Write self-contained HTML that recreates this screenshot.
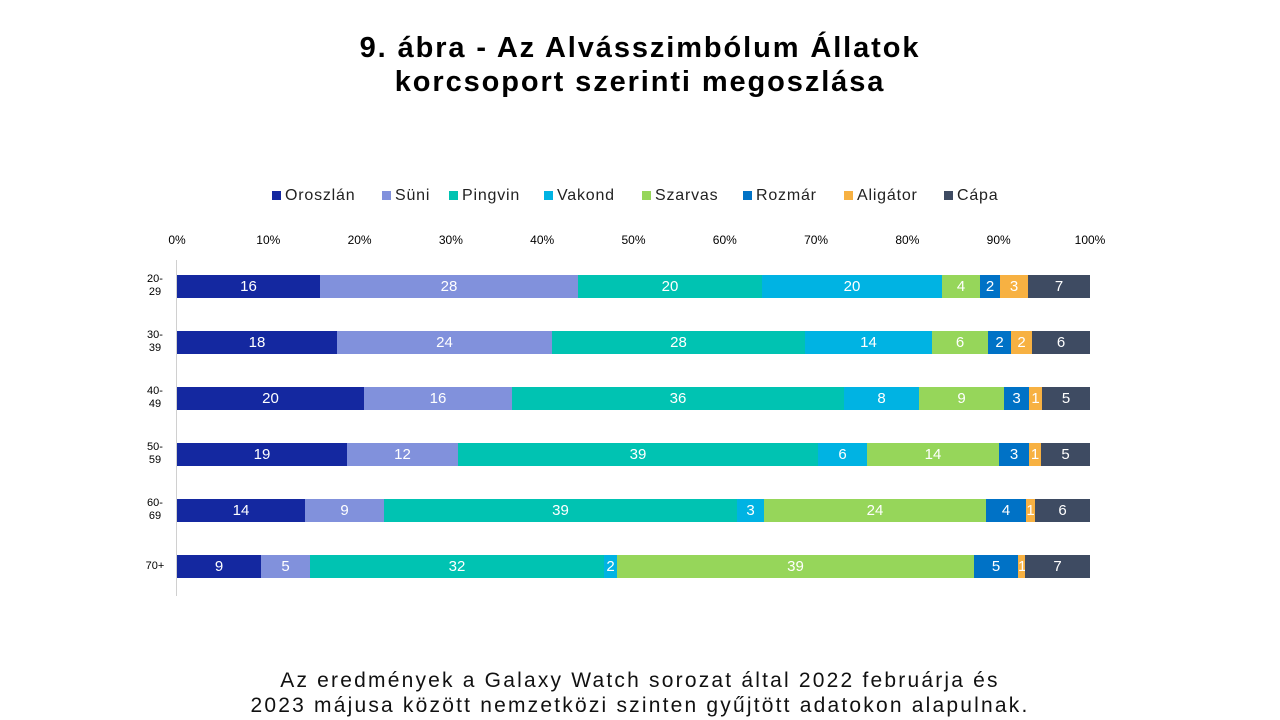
<!DOCTYPE html>
<html><head><meta charset="utf-8"><style>
body{margin:0;width:1280px;height:720px;background:#fff;position:relative;font-family:"Liberation Sans",sans-serif;overflow:hidden}
.t{position:absolute;left:0;width:1280px;text-align:center;font-weight:bold;font-size:29px;color:#000;letter-spacing:1.9px}
.a{position:absolute;font-size:12px;color:#000;transform:translateX(-50%);top:233px}
.s{position:absolute;height:23px;color:#fff;font-size:15px;line-height:23px;text-align:center;overflow:hidden}
.y{position:absolute;left:135px;width:40px;text-align:center;font-size:11px;line-height:13px;color:#000}
.lg{position:absolute;top:187px;font-size:16px;color:#222;letter-spacing:0.8px}
.lg i{display:inline-block;width:9px;height:9px;margin-right:4px}
.f{position:absolute;left:0;width:1280px;text-align:center;font-size:21px;color:#111;line-height:25px;top:668px;letter-spacing:2.2px}
</style></head><body>
<div class="t" style="top:32px">9. ábra - Az Alvásszimbólum Állatok</div>
<div class="t" style="top:66px">korcsoport szerinti megoszlása</div>
<div class="lg" style="left:272px"><i style="background:#1428a0"></i>Oroszlán</div>
<div class="lg" style="left:382px"><i style="background:#8191dc"></i>Süni</div>
<div class="lg" style="left:449px"><i style="background:#00c3b2"></i>Pingvin</div>
<div class="lg" style="left:544px"><i style="background:#00b3e3"></i>Vakond</div>
<div class="lg" style="left:642px"><i style="background:#96d65a"></i>Szarvas</div>
<div class="lg" style="left:743px"><i style="background:#0072c6"></i>Rozmár</div>
<div class="lg" style="left:844px"><i style="background:#f7b142"></i>Aligátor</div>
<div class="lg" style="left:944px"><i style="background:#3e4b62"></i>Cápa</div>
<div style="position:absolute;left:176px;top:260px;width:1px;height:336px;background:#d0d0d0"></div>
<div id="c"></div>
<div class="f">Az eredmények a Galaxy Watch sorozat által 2022 februárja és<br>2023 májusa között nemzetközi szinten gyűjtött adatokon alapulnak.</div>
<script>
var cols=["#1428a0","#8191dc","#00c3b2","#00b3e3","#96d65a","#0072c6","#f7b142","#3e4b62"];
var rows=[
["20-<br>29",[177,320,578,762,942,980,1000,1028,1090],[16,28,20,20,4,2,3,7]],
["30-<br>39",[177,337,552,805,932,988,1011,1032,1090],[18,24,28,14,6,2,2,6]],
["40-<br>49",[177,364,512,844,919,1004,1029,1042,1090],[20,16,36,8,9,3,1,5]],
["50-<br>59",[177,347,458,818,867,999,1029,1041,1090],[19,12,39,6,14,3,1,5]],
["60-<br>69",[177,305,384,737,764,986,1026,1035,1090],[14,9,39,3,24,4,1,6]],
["70+",[177,261,310,604,617,974,1018,1025,1090],[9,5,32,2,39,5,1,7]]];
var h="";
for(var i=0;i<=10;i++){h+='<div class="a" style="left:'+(177+91.3*i)+'px">'+(i*10)+'%</div>';}
rows.forEach(function(r,k){var top=275+56*k;
h+='<div class="y" style="top:'+(top+(r[0].length>4?-2:5))+'px">'+r[0]+'</div>';
for(var j=0;j<8;j++){var x=r[1][j],w=r[1][j+1]-x;
h+='<div class="s" style="left:'+x+'px;top:'+top+'px;width:'+w+'px;background:'+cols[j]+'">'+r[2][j]+'</div>';}});
document.getElementById("c").innerHTML=h;
</script>
</body></html>
